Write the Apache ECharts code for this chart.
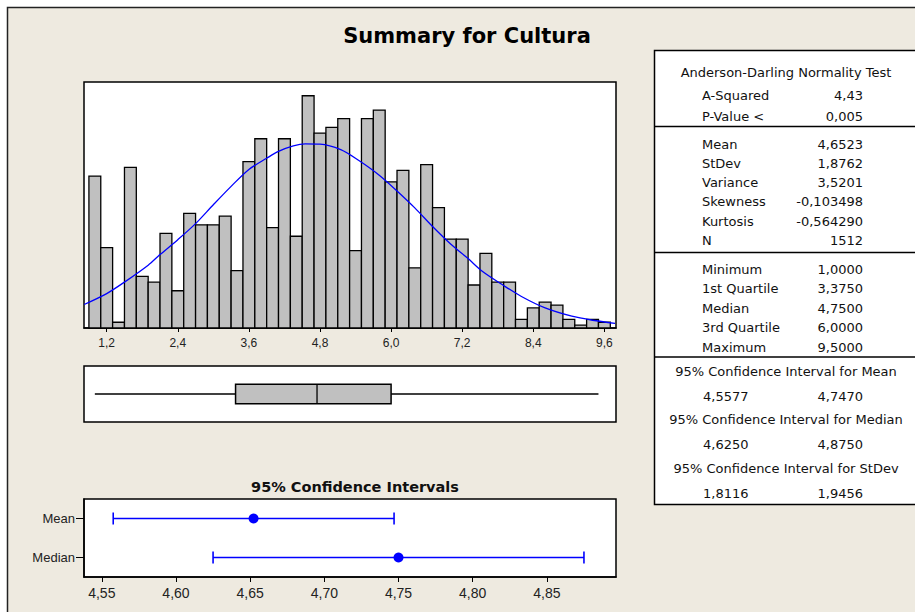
<!DOCTYPE html>
<html>
<head>
<meta charset="utf-8">
<script src="https://cdn.jsdelivr.net/npm/echarts@6/dist/echarts.min.js"></script>
<style>
  html, body { margin: 0; padding: 0; background: #fff; }
  #chart { width: 915px; height: 612px; }
</style>
</head>
<body>
<div id="chart"></div>
<script>
// histogram: bar centres (bin width 0.2) and counts
const binWidth = 0.2;
const binCenters = [1.0, 1.2, 1.4, 1.6, 1.8, 2.0, 2.2, 2.4, 2.6, 2.8, 3.0, 3.2, 3.4, 3.6, 3.8, 4.0,
  4.2, 4.4, 4.6, 4.8, 5.0, 5.2, 5.4, 5.6, 5.8, 6.0, 6.2, 6.4, 6.6, 6.8, 7.0, 7.2, 7.4, 7.6, 7.8,
  8.0, 8.2, 8.4, 8.6, 8.8, 9.0, 9.2, 9.4, 9.6];
const binCounts = [53, 28, 2, 56, 18, 16, 33, 13, 40, 36, 36, 39, 20, 58, 66, 35, 66, 32, 81, 68,
  70, 73, 27, 73, 76, 51, 55, 21, 57, 42, 31, 31, 15, 26, 16, 16, 3, 7, 9, 8, 3, 1, 3, 2];
const histTicks = [1.2, 2.4, 3.6, 4.8, 6.0, 7.2, 8.4, 9.6];

// fitted normal curve
const fitX = [0.82, 1.2, 1.5, 1.9, 2.1, 2.4, 2.7, 3.0, 3.3, 3.6, 3.9, 4.1, 4.35, 4.55, 4.8, 5.15,
  5.45, 5.8, 6.1, 6.4, 6.7, 7.0, 7.3, 7.55, 7.9, 8.2, 8.6, 9.05, 9.4, 9.78];
const fitY = [8.2, 12.0, 16.0, 21.9, 25.6, 30.8, 36.4, 43.0, 49.4, 55.3, 59.2, 61.6, 63.5, 64.2,
  64.1, 62.2, 58.5, 53.3, 47.8, 41.9, 35.4, 29.4, 24.2, 19.6, 14.8, 11.0, 7.0, 4.1, 2.7, 1.6];

// min, Q1, median, Q3, max
const boxStats = [1.0, 3.375, 4.75, 6.0, 9.5];

// 95% confidence intervals
const ciNames = ["Mean", "Median"];
const ciLow = [4.5577, 4.625];
const ciHigh = [4.747, 4.875];
const ciEst = [4.6523, 4.75];
const ciTicks = [4.55, 4.60, 4.65, 4.70, 4.75, 4.80, 4.85];

// summary table
const adLabels = ["A-Squared", "P-Value <"];
const adValues = ["4,43", "0,005"];
const descLabels = ["Mean", "StDev", "Variance", "Skewness", "Kurtosis", "N"];
const descValues = ["4,6523", "1,8762", "3,5201", "-0,103498", "-0,564290", "1512"];
const quartLabels = ["Minimum", "1st Quartile", "Median", "3rd Quartile", "Maximum"];
const ciTableTitles = ["95% Confidence Interval for Mean", "95% Confidence Interval for Median",
  "95% Confidence Interval for StDev"];
const ciTableLow = [4.5577, 4.625, 1.8116];
const ciTableHigh = [4.747, 4.875, 1.9456];

const comma = (s) => String(s).replace(".", ",");
const narrow = "'Liberation Sans Narrow', 'Liberation Sans', Arial, sans-serif";
const tableFamily = "'DejaVu Sans', sans-serif";

// ---- table graphic ----
const tableEls = [];
function addText(text, x, y, align) {
  tableEls.push({
    type: "text", x: x, y: y, z: 10,
    style: {
      text: text, fontSize: 13, fontFamily: tableFamily, fill: "#111",
      textAlign: align, align: align, textVerticalAlign: "middle", verticalAlign: "middle",
    },
  });
}
function addLine(y) {
  tableEls.push({
    type: "line", z: 10,
    shape: { x1: 654.5, y1: y, x2: 930, y2: y },
    style: { stroke: "#000", lineWidth: 1.5 },
  });
}
tableEls.push({
  type: "rect", z: 9,
  shape: { x: 654.5, y: 50.5, width: 300, height: 454 },
  style: { fill: "#fff", stroke: "#000", lineWidth: 1.5 },
});
addText("Anderson-Darling Normality Test", 786, 72, "center");
adLabels.forEach((l, i) => {
  addText(l, 702, 95 + i * 21, "left");
  addText(adValues[i], 863, 95 + i * 21, "right");
});
addLine(126.5);
descLabels.forEach((l, i) => {
  addText(l, 702, 144 + i * 19.3, "left");
  addText(descValues[i], 863, 144 + i * 19.3, "right");
});
addLine(252.5);
quartLabels.forEach((l, i) => {
  addText(l, 702, 269 + i * 19.5, "left");
  addText(comma(boxStats[i].toFixed(4)), 863, 269 + i * 19.5, "right");
});
addLine(357);
ciTableTitles.forEach((t, i) => {
  addText(t, 786, 371 + i * 48.8, "center");
  addText(comma(ciTableLow[i].toFixed(4)), 703, 396 + i * 48.8, "left");
  addText(comma(ciTableHigh[i].toFixed(4)), 863, 396 + i * 48.8, "right");
});

const chart = echarts.init(document.getElementById("chart"), null, { renderer: "svg" });

const option = {
  animation: false,
  title: [
    {
      text: "Summary for Cultura", left: 462, top: 20, textAlign: "center",
      textStyle: { fontSize: 21, fontWeight: "bold", fontFamily: tableFamily, color: "#000" },
    },
    {
      text: "95% Confidence Intervals", left: 350, top: 474, textAlign: "center",
      textStyle: { fontSize: 14.5, fontWeight: "bold", fontFamily: tableFamily, color: "#111" },
    },
  ],
  graphic: [
    {
      type: "rect", z: -10,
      shape: { x: 7.5, y: 7.5, width: 1000, height: 1000 },
      style: { fill: "#EEEAE0", stroke: "#222", lineWidth: 1.5 },
    },
  ].concat(tableEls),
  grid: [
    { left: 84, top: 82, width: 532, height: 246, show: true, backgroundColor: "#fff",
      borderColor: "#000", borderWidth: 1.5, outerBoundsMode: "none" },
    { left: 84, top: 366, width: 532, height: 56, show: true, backgroundColor: "#fff",
      borderColor: "#000", borderWidth: 1.5, outerBoundsMode: "none" },
    { left: 84, top: 499, width: 532, height: 78, show: true, backgroundColor: "#fff",
      borderColor: "#000", borderWidth: 1.5, outerBoundsMode: "none" },
  ],
  xAxis: [
    {
      gridIndex: 0, type: "value", min: 0.817, max: 9.796,
      axisLine: { show: true, lineStyle: { color: "#000", width: 1.5 } },
      axisTick: { show: true, customValues: histTicks, length: 4, lineStyle: { color: "#000" } },
      axisLabel: {
        customValues: histTicks, margin: 9, fontSize: 12, color: "#222",
        fontFamily: "'Liberation Sans', Arial, sans-serif",
        formatter: (v) => comma(v.toFixed(1)),
      },
      splitLine: { show: false },
    },
    { gridIndex: 1, type: "value", min: 0.817, max: 9.796, show: false },
    {
      gridIndex: 2, type: "value", min: 4.538, max: 4.8966,
      axisLine: { show: true, lineStyle: { color: "#000", width: 1.5 } },
      axisTick: { show: true, customValues: ciTicks, length: 5, lineStyle: { color: "#000" } },
      axisLabel: {
        customValues: ciTicks, margin: 9, fontSize: 14, color: "#222", fontFamily: narrow,
        formatter: (v) => comma(v.toFixed(2)),
      },
      splitLine: { show: false },
    },
  ],
  yAxis: [
    { gridIndex: 0, type: "value", min: 0, max: 85.8, show: false },
    { gridIndex: 1, type: "category", data: ["Cultura"], show: false },
    {
      gridIndex: 2, type: "category", data: ciNames, inverse: true,
      axisLine: { show: true, lineStyle: { color: "#000", width: 1.5 } },
      axisTick: { show: true, alignWithLabel: true, length: 8, lineStyle: { color: "#000" } },
      axisLabel: { margin: 9, fontSize: 13, color: "#222", fontFamily: narrow },
      splitLine: { show: false },
    },
  ],
  series: [
    {
      name: "Histogram", type: "custom", xAxisIndex: 0, yAxisIndex: 0,
      data: binCenters.map((c, i) => [c, binCounts[i]]),
      renderItem: function (params, api) {
        const c = api.value(0);
        const p0 = api.coord([c - binWidth / 2, api.value(1)]);
        const p1 = api.coord([c + binWidth / 2, 0]);
        return {
          type: "rect",
          shape: { x: p0[0], y: p0[1], width: p1[0] - p0[0], height: p1[1] - p0[1] },
          style: { fill: "#C0C0C0", stroke: "#000", lineWidth: 1.3 },
        };
      },
    },
    {
      name: "Normal", type: "line", xAxisIndex: 0, yAxisIndex: 0,
      data: fitX.map((x, i) => [x, fitY[i]]),
      smooth: 0.3, showSymbol: false, clip: true, z: 5,
      lineStyle: { color: "#0000FF", width: 1.3 },
    },
    {
      name: "Boxplot", type: "custom", xAxisIndex: 1, yAxisIndex: 1,
      data: [[0].concat(boxStats)],
      encode: { y: 0, x: [1, 2, 3, 4, 5] },
      renderItem: function (params, api) {
        const p = [1, 2, 3, 4, 5].map((d) => api.coord([api.value(d), api.value(0)]));
        const yc = p[0][1];
        const h = api.size([0, 1])[1] * 0.173;
        const ln = { stroke: "#000", lineWidth: 1.3 };
        return {
          type: "group",
          children: [
            { type: "line", shape: { x1: p[0][0], y1: yc, x2: p[1][0], y2: yc }, style: ln },
            { type: "line", shape: { x1: p[3][0], y1: yc, x2: p[4][0], y2: yc }, style: ln },
            {
              type: "rect",
              shape: { x: p[1][0], y: yc - h, width: p[3][0] - p[1][0], height: 2 * h },
              style: { fill: "#C0C0C0", stroke: "#000", lineWidth: 1.5 },
            },
            { type: "line", shape: { x1: p[2][0], y1: yc - h, x2: p[2][0], y2: yc + h }, style: ln },
          ],
        };
      },
    },
    {
      name: "CI", type: "custom", xAxisIndex: 2, yAxisIndex: 2,
      data: ciNames.map((n, i) => [i, ciLow[i], ciHigh[i]]),
      encode: { y: 0, x: [1, 2] },
      renderItem: function (params, api) {
        const a = api.coord([api.value(1), api.value(0)]);
        const b = api.coord([api.value(2), api.value(0)]);
        const st = { stroke: "#0000FF", lineWidth: 1.6 };
        return {
          type: "group",
          children: [
            { type: "line", shape: { x1: a[0], y1: a[1], x2: b[0], y2: b[1] }, style: st },
            { type: "line", shape: { x1: a[0], y1: a[1] - 6, x2: a[0], y2: a[1] + 6 }, style: st },
            { type: "line", shape: { x1: b[0], y1: b[1] - 6, x2: b[0], y2: b[1] + 6 }, style: st },
          ],
        };
      },
    },
    {
      name: "Estimate", type: "scatter", xAxisIndex: 2, yAxisIndex: 2,
      data: ciEst.map((v, i) => [v, i]),
      symbol: "circle", symbolSize: 10, z: 5,
      itemStyle: { color: "#0000FF", opacity: 1 },
    },
  ],
};

chart.setOption(option);
</script>
</body>
</html>
